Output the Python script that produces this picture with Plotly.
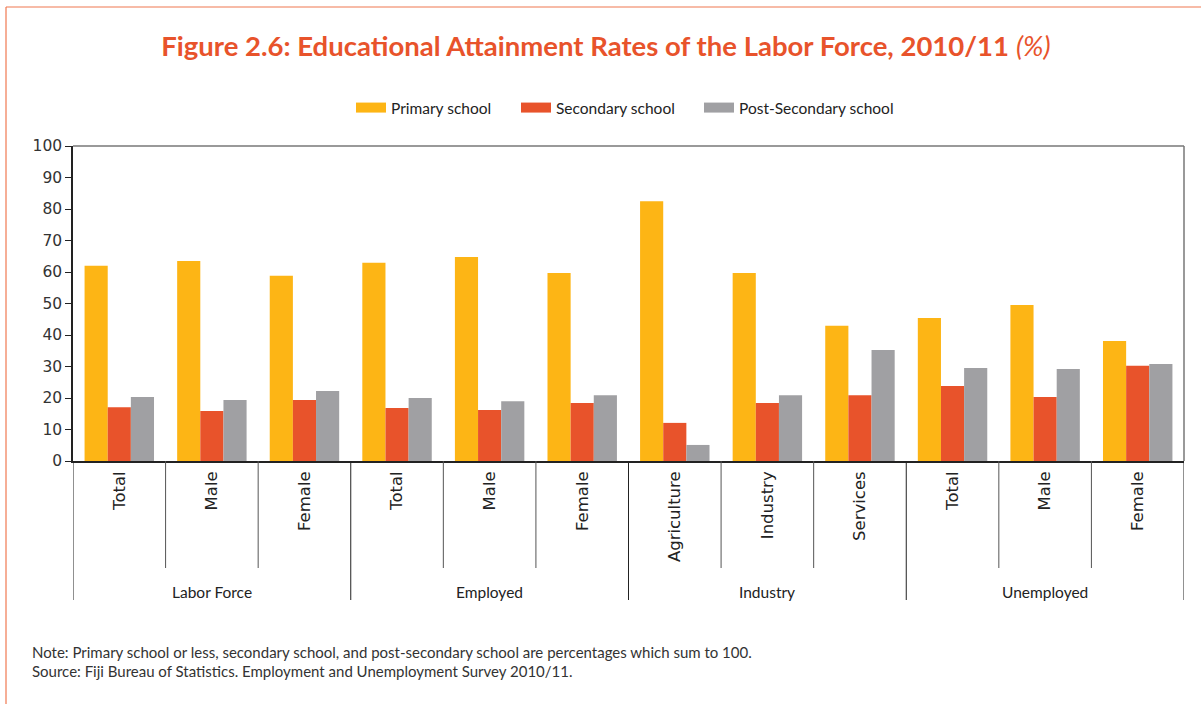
import plotly.graph_objects as go

groups = ["Labor Force", "Employed", "Industry", "Unemployed"]
group_sizes = [3, 3, 3, 3]
categories = ["Total", "Male", "Female", "Total", "Male", "Female",
              "Agriculture", "Industry", "Services", "Total", "Male", "Female"]
primary = [62.0, 63.5, 58.8, 62.9, 64.8, 59.7, 82.5, 59.7, 42.9, 45.4, 49.5, 38.1]
secondary = [17.1, 15.9, 19.4, 16.8, 16.2, 18.4, 12.1, 18.4, 20.9, 23.8, 20.3, 30.2]
post_secondary = [20.3, 19.4, 22.2, 20.0, 19.0, 20.9, 5.1, 20.9, 35.2, 29.5, 29.2, 30.8]
series_names = ["Primary school", "Secondary school", "Post-Secondary school"]
colors = ["#FDB515", "#E8532B", "#A0A0A3"]
ytick_vals = [0, 10, 20, 30, 40, 50, 60, 70, 80, 90, 100]

xpos = list(range(len(categories)))

# plot geometry in px
L, R, T, B = 73, 17, 146, 243
W, H = 1201, 704
pw = W - L - R
ph = H - T - B

def py(px):
    return (H - B - px) / ph

def pxx(px):
    return (px - L) / pw

fig = go.Figure()
for name, vals, col in zip(series_names, [primary, secondary, post_secondary], colors):
    fig.add_trace(go.Bar(x=xpos, y=vals, name=name, showlegend=False,
                         marker=dict(color=col, line=dict(width=0))))
# legend entries drawn as thick short lines (rectangular swatches), one legend each
legend_ids = ["legend", "legend2", "legend3"]
legend_x_px = [351, 516, 699]
for name, col, lid in zip(series_names, colors, legend_ids):
    fig.add_trace(go.Scatter(x=[None], y=[None], mode="lines", name=name, legend=lid,
                             line=dict(color=col, width=10), hoverinfo="skip"))

shapes = []
n = len(categories)
boundaries = [i - 0.5 for i in range(n + 1)]
group_edges = [0]
for s in group_sizes:
    group_edges.append(group_edges[-1] + s)
for i, b in enumerate(boundaries):
    is_group = i in group_edges
    shapes.append(dict(type="line", xref="x", yref="paper", x0=b, x1=b,
                       y0=0, y1=py(600) if is_group else py(568),
                       line=dict(color="#222222" if is_group else "#555555", width=1)))
shapes.append(dict(type="line", xref="paper", yref="paper", x0=0, x1=1, y0=1, y1=1,
                   line=dict(color="#777777", width=1.5)))
shapes.append(dict(type="line", xref="paper", yref="paper", x0=1, x1=1, y0=0, y1=1,
                   line=dict(color="#777777", width=1.5)))
shapes.append(dict(type="line", xref="paper", yref="paper", x0=pxx(6), x1=pxx(1210), y0=py(7), y1=py(7),
                   line=dict(color="#F07850", width=1.2)))
shapes.append(dict(type="line", xref="paper", yref="paper", x0=pxx(6), x1=pxx(6), y0=py(7), y1=py(710),
                   line=dict(color="#F07850", width=1.2)))

annotations = []
start = 0
for g, s in zip(groups, group_sizes):
    center = start + (s - 1) / 2
    annotations.append(dict(x=center, y=py(592), xref="x", yref="paper", text=g, showarrow=False,
                            font=dict(family="Lato, Open Sans, sans-serif", size=15.5, color="#222222"),
                            xanchor="center", yanchor="middle"))
    start += s

annotations.append(dict(x=pxx(30), y=py(652), xref="paper", yref="paper", showarrow=False,
                        text="Note: Primary school or less, secondary school, and post-secondary school are percentages which sum to 100.",
                        font=dict(family="Lato, Open Sans, sans-serif", size=15, color="#333333"),
                        xanchor="left", yanchor="middle"))
annotations.append(dict(x=pxx(30), y=py(671), xref="paper", yref="paper", showarrow=False,
                        text="Source: Fiji Bureau of Statistics. Employment and Unemployment Survey 2010/11.",
                        font=dict(family="Lato, Open Sans, sans-serif", size=15, color="#333333"),
                        xanchor="left", yanchor="middle"))

legend_font = dict(family="Lato, Open Sans, sans-serif", size=15.5, color="#222222")
legend_layout = {}
for lid, lx in zip(legend_ids, legend_x_px):
    legend_layout[lid] = dict(orientation="h", x=pxx(lx), xanchor="left", y=py(108), yanchor="middle",
                              font=legend_font, itemwidth=30, bgcolor="rgba(0,0,0,0)", borderwidth=0)

fig.update_layout(
    width=W, height=H,
    margin=dict(l=L, r=R, t=T, b=B, pad=0),
    paper_bgcolor="white", plot_bgcolor="white",
    barmode="group", bargap=0.25, bargroupgap=0,
    title=dict(text="<b>Figure 2.6: Educational Attainment Rates of the Labor Force, 2010/11</b> <i>(%)</i>",
               x=pxx(606), xref="paper", xanchor="center", y=1 - 46 / H, yanchor="middle",
               font=dict(family="Lato, Open Sans, sans-serif", size=27.5, color="#E8532B")),
    xaxis=dict(range=[-0.5, n - 0.5], tickmode="array", tickvals=xpos, ticktext=categories,
               tickangle=-90, ticks="", showgrid=False, zeroline=False,
               showline=True, linecolor="#222222", linewidth=1.5,
               tickfont=dict(family="DejaVu Sans, sans-serif", size=16.5, color="#222222"),
               ticklabelstandoff=2),
    yaxis=dict(range=[0, 100], tickmode="array", tickvals=ytick_vals, ticks="outside", ticklen=6,
               tickcolor="#222222", showgrid=False, zeroline=False, showline=True,
               linecolor="#222222", linewidth=1.5,
               tickfont=dict(family="DejaVu Sans, sans-serif", size=15.5, color="#333333")),
    shapes=shapes, annotations=annotations,
    **legend_layout,
)

fig.write_html("out.html")
